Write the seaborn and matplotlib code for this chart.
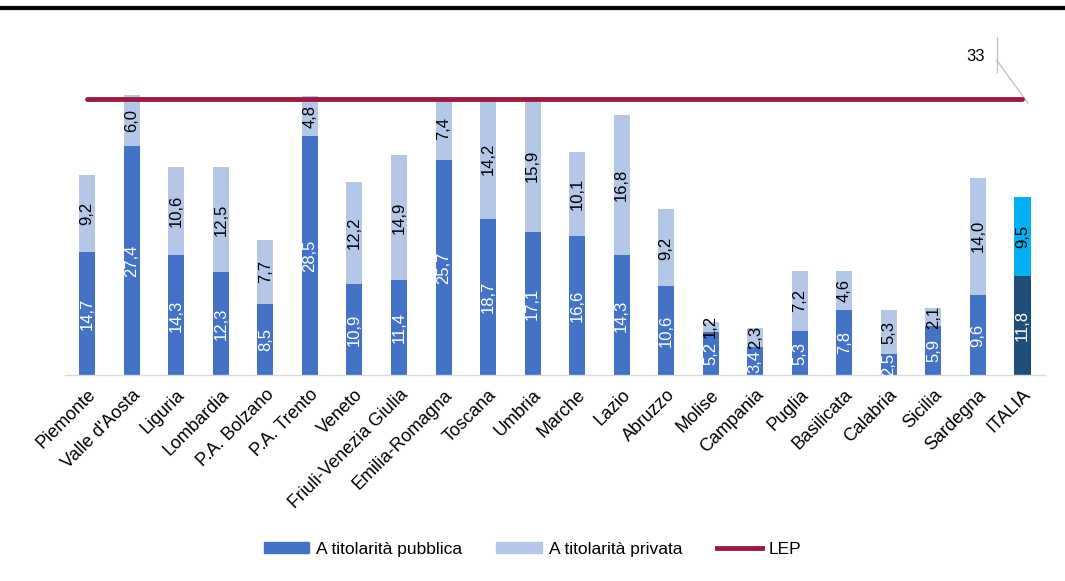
import numpy as np
import pandas as pd
import matplotlib
matplotlib.use('Agg')
import matplotlib.pyplot as plt
import seaborn as sns
from matplotlib.patches import Patch
from matplotlib.lines import Line2D

# dati
regioni = ['Piemonte', "Valle d'Aosta", 'Liguria', 'Lombardia', 'P.A. Bolzano',
           'P.A. Trento', 'Veneto', 'Friuli-Venezia Giulia', 'Emilia-Romagna',
           'Toscana', 'Umbria', 'Marche', 'Lazio', 'Abruzzo', 'Molise',
           'Campania', 'Puglia', 'Basilicata', 'Calabria', 'Sicilia',
           'Sardegna', 'ITALIA']
pubblica = [14.7, 27.4, 14.3, 12.3, 8.5, 28.5, 10.9, 11.4, 25.7, 18.7, 17.1,
            16.6, 14.3, 10.6, 5.2, 3.4, 5.3, 7.8, 2.5, 5.9, 9.6, 11.8]
privata = [9.2, 6.0, 10.6, 12.5, 7.7, 4.8, 12.2, 14.9, 7.4, 14.2, 15.9,
           10.1, 16.8, 9.2, 1.2, 2.3, 7.2, 4.6, 5.3, 2.1, 14.0, 9.5]
lep = 33

df = pd.DataFrame({'regione': regioni, 'pubblica': pubblica, 'privata': privata})
df['totale'] = df['pubblica'] + df['privata']

c_pub = '#4472C4'
c_priv = '#B4C7E7'
col_pub = [c_pub] * (len(regioni) - 1) + ['#1F4E79']
col_priv = [c_priv] * (len(regioni) - 1) + ['#00B0F0']

plt.rcParams['font.family'] = ['Liberation Sans', 'DejaVu Sans']

fig = plt.figure(figsize=(10.65, 5.81), dpi=100)
ax = fig.add_axes([0.061, 0.354, 0.92, 0.577])

# barre impilate: prima il totale, poi la parte pubblica sopra
sns.barplot(data=df, x='regione', y='totale', hue='regione', palette=col_priv,
            width=0.36, legend=False, ax=ax, saturation=1)
sns.barplot(data=df, x='regione', y='pubblica', hue='regione', palette=col_pub,
            width=0.36, legend=False, ax=ax, saturation=1)

# linea LEP
x = np.arange(len(regioni))
ax.plot([x[0], x[-1]], [lep, lep], color='#9B1B3F', lw=3.5, zorder=5,
        solid_capstyle='round')

# etichette dentro le barre
for i in range(len(regioni)):
    p = pubblica[i]
    q = privata[i]
    ax.text(i, p / 2, f'{p:.1f}'.replace('.', ','), rotation=90,
            ha='center', va='center', color='white', fontsize=12, zorder=6)
    ax.text(i, p + q / 2, f'{q:.1f}'.replace('.', ','), rotation=90,
            ha='center', va='center', color='black', fontsize=12, zorder=6)

# etichetta 33 con linea guida
ax.text(20.15, 38.1, str(lep), ha='right', va='center', fontsize=12)
ax.plot([20.42, 20.42], [40.4, 36.2], color='#BFBFBF', lw=0.9, clip_on=False)
ax.plot([20.42, 21.12], [37.6, 32.5], color='#BFBFBF', lw=0.9, clip_on=False)

ax.set_xlim(-0.5, len(regioni) - 0.5)
ax.set_ylim(0, 40)
ax.set_xlabel('')
ax.set_ylabel('')
ax.set_yticks([])
ax.tick_params(axis='x', length=0, labelsize=13, pad=8)
plt.setp(ax.get_xticklabels(), rotation=45, ha='right', rotation_mode='anchor')
for s in ['top', 'right', 'left']:
    ax.spines[s].set_visible(False)
ax.spines['bottom'].set_color('#D9D9D9')
ax.spines['bottom'].set_linewidth(1)

# legenda in basso
handles = [Patch(color=c_pub, label='A titolarità pubblica'),
           Patch(color=c_priv, label='A titolarità privata'),
           Line2D([0], [0], color='#9B1B3F', lw=3.5, label='LEP')]
fig.legend(handles=handles, loc='center', bbox_to_anchor=(0.5, 0.055),
           ncol=3, frameon=False, fontsize=12.5, handlelength=2.6,
           handleheight=0.55, columnspacing=2.0, handletextpad=0.4)

# linea nera in alto
fig.add_artist(Line2D([0.0, 1.0], [0.986, 0.986], color='black', lw=3,
                      transform=fig.transFigure))

plt.savefig('out.png', dpi=100)
plt.close()
